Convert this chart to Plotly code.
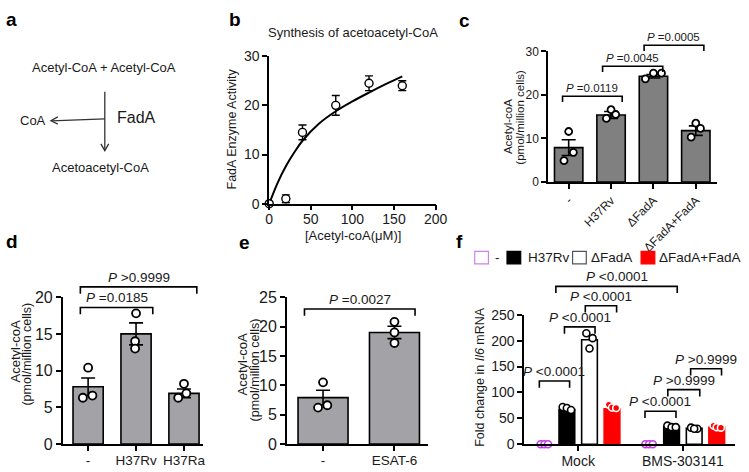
import plotly.graph_objects as go

W, H = 749, 472

# ---------------- data ----------------
b_conc = [0, 20, 40, 80, 120, 160]
b_activity = [0.0, 1.0, 14.5, 20.0, 24.5, 24.0]
b_sem = [0.0, 0.8, 1.5, 2.0, 1.5, 1.0]
b_fit_conc = [0, 10, 20, 30, 40, 60, 80, 100, 120, 140, 160]
b_fit_activity = [0.0, 4.2, 7.6, 10.4, 12.8, 16.3, 18.8, 20.8, 22.6, 24.3, 25.9]
b_xticks = [0, 50, 100, 150, 200]
b_yticks = [0, 10, 20, 30]

c_groups = ["-", "H37Rv", "ΔFadA", "ΔFadA+FadA"]
c_mean = [7.9, 15.4, 24.3, 11.8]
c_sem = [1.8, 0.8, 0.4, 1.1]
c_points = [[11.6, 4.9, 6.8], [16.6, 14.6, 15.5], [23.7, 25.0, 25.0], [13.5, 10.3, 12.3]]
c_pvalues = ["=0.0119", "=0.0045", "=0.0005"]
c_yticks = [0, 10, 20, 30]

d_groups = ["-", "H37Rv", "H37Ra"]
d_mean = [7.8, 15.0, 6.9]
d_sem = [1.2, 1.5, 0.6]
d_points = [[10.4, 6.3, 6.6], [17.8, 14.0, 13.0], [8.2, 6.3, 6.9]]
d_pvalues = ["=0.0185", ">0.9999"]
d_yticks = [0, 5, 10, 15, 20]

e_groups = ["-", "ESAT-6"]
e_mean = [7.9, 19.0]
e_sem = [1.25, 1.05]
e_points = [[10.5, 6.2, 6.6], [20.8, 19.0, 17.2]]
e_pvalues = ["=0.0027"]
e_yticks = [0, 5, 10, 15, 20, 25]

f_treatments = ["Mock", "BMS-303141"]
f_strains = ["-", "H37Rv", "ΔFadA", "ΔFadA+FadA"]
f_mean = [[0, 0], [67, 34], [202, 30.6], [68.5, 32.5]]          # [strain][treatment]
f_points = [
    [[0, 0, 0], [0, 0, 0]],
    [[72, 70, 66], [36, 33, 33]],
    [[214.5, 205, 185], [32, 30, 30]],
    [[76.5, 71, 70], [36, 33, 32]],
]
f_pvalues = ["<0.0001", "<0.0001", "<0.0001", "<0.0001", "<0.0001", ">0.9999", ">0.9999"]
f_yticks = [0, 50, 100, 150, 200, 250]

# ---------------- layout / style ----------------
FONT = "Liberation Sans, Arial, sans-serif"
TXT = "#1a1a1a"

PANELS = {
    'b': dict(n='', px=(271, 441), py=(50, 203), xr=(0, 200), yr=(0, 30)),
    'c': dict(n='2', px=(556, 729), py=(45, 180.5), xr=(-0.485, 3.51), yr=(0, 30)),
    'd': dict(n='3', px=(60, 203), py=(300, 452.3), xr=(-0.53, 2.39), yr=(0, 20)),
    'e': dict(n='4', px=(289, 433), py=(300, 452.3), xr=(-0.507, 1.466), yr=(0, 25)),
    'f': dict(n='5', px=(531.5, 747), py=(318.3, 452.5), xr=(-0.516, 1.498), yr=(0, 250)),
}

def PX(x):
    return x / W

def PY(y):
    return 1 - y / H

def to_paper(p, x, y):
    P = PANELS[p]
    (l, r), (t, b) = P['px'], P['py']
    (x0, x1), (y0, y1) = P['xr'], P['yr']
    xp = l + (x - x0) / (x1 - x0) * (r - l)
    yp = b - (y - y0) / (y1 - y0) * (b - t)
    return xp, yp   # pixel coords

c_jit = [[0, -0.11, 0.11], [0, -0.11, 0.11], [-0.19, 0.0, 0.19], [0, -0.11, 0.11]]
d_jit = [[0, -0.11, 0.09], [0.0, -0.02, -0.02], [0, -0.12, 0.05]]
e_jit = [[0, -0.07, 0.06], [0, 0, 0]]
F_OFF = [-0.323, -0.108, 0.108, 0.323]
F_JIT = [[-0.035, 0, 0.035], [-0.04, 0.0, 0.04], [-0.03, 0.03, 0.0], [-0.03, 0.0, 0.04]]
F_FILL = ["white", "black", "white", "#ff0000"]
F_LINE = ["#c43be6", "black", "black", "#ff0000"]
F_PT_FILL = ["white", "white", "white", "#ff0000"]
F_PT_LINE = ["#c43be6", "black", "black", "white"]

c_brackets = [(-0.145, 1.263, 19.7), (0.80, 2.22, 26.6), (1.78, 3.19, 31.4)]
d_brackets = [(-0.162, 1.349, 18.6), (-0.162, 2.268, 21.4)]
e_brackets = [(-0.26, 1.288, 23.0)]
f_brackets = [(-0.371, -0.082, 122), (-0.131, 0.161, 226.7), (0.068, 0.367, 267.7),
              (-0.213, 0.946, 305), (0.638, 0.934, 63.8), (0.856, 1.161, 105.4),
              (1.074, 1.369, 145.9)]

fig = go.Figure()
shapes = []
annotations = []

def ann(xpx, ypx, text, size, **kw):
    d = dict(x=PX(xpx), y=PY(ypx), xref='paper', yref='paper', text=text,
             showarrow=False, font=dict(family=FONT, size=size, color=kw.pop('color', TXT)),
             xanchor=kw.pop('xanchor', 'center'), yanchor=kw.pop('yanchor', 'middle'))
    d.update(kw)
    annotations.append(d)

def bracket(p, x0, x1, y, pv, size, tip=7, gap=10):
    ax0, ay = to_paper(p, x0, y)
    ax1, _ = to_paper(p, x1, y)
    path = (f"M {PX(ax0)},{PY(ay + tip)} L {PX(ax0)},{PY(ay)} "
            f"L {PX(ax1)},{PY(ay)} L {PX(ax1)},{PY(ay + tip)}")
    shapes.append(dict(type='path', path=path, xref='paper', yref='paper',
                       line=dict(color='black', width=1.6)))
    t = "<i>P</i> " + pv.replace("<", "&lt;").replace(">", "&gt;")
    ann((ax0 + ax1) / 2, ay - gap, t, size)

def axref(p, letter):
    return letter + PANELS[p]['n']

# ---- panel b ----
fig.add_trace(go.Scatter(x=b_fit_conc, y=b_fit_activity, mode='lines',
                         line=dict(color='black', width=2, shape='spline'),
                         xaxis='x', yaxis='y', showlegend=False, hoverinfo='skip'))
fig.add_trace(go.Scatter(x=b_conc, y=b_activity, mode='markers',
                         marker=dict(symbol='circle', size=8, color='white', line=dict(color='black', width=1.4)),
                         error_y=dict(type='data', array=b_sem, color='black', thickness=1.4, width=4),
                         xaxis='x', yaxis='y', showlegend=False, cliponaxis=False))

# ---- bar panels c, d, e ----
def bar_panel(p, groups, mean, sem, points, jit, color, width, msize):
    xa, ya = axref(p, 'x'), axref(p, 'y')
    fig.add_trace(go.Bar(x=list(range(len(groups))), y=mean, width=width, xaxis=xa, yaxis=ya,
                         marker=dict(color=color, line=dict(color='black', width=1.6)),
                         error_y=dict(type='data', array=sem, color='black', thickness=1.6, width=7),
                         showlegend=False))
    xs, ys = [], []
    for i, pts in enumerate(points):
        for j, v in enumerate(pts):
            xs.append(i + jit[i][j])
            ys.append(v)
    fig.add_trace(go.Scatter(x=xs, y=ys, mode='markers', xaxis=xa, yaxis=ya, cliponaxis=False,
                             marker=dict(symbol='circle', size=msize, color='white',
                                         line=dict(color='black', width=1.8)),
                             showlegend=False))

bar_panel('c', c_groups, c_mean, c_sem, c_points, c_jit, '#808080', 0.67, 7)
bar_panel('d', d_groups, d_mean, d_sem, d_points, d_jit, '#a3a3a7', 0.63, 8)
bar_panel('e', e_groups, e_mean, e_sem, e_points, e_jit, '#a3a3a7', 0.70, 8)

# ---- panel f ----
for k, s in enumerate(f_strains):
    fig.add_trace(go.Bar(x=[g + F_OFF[k] for g in range(len(f_treatments))], y=f_mean[k], width=0.15,
                         xaxis='x5', yaxis='y5', showlegend=False,
                         marker=dict(color=F_FILL[k], line=dict(color=F_LINE[k], width=1.6))))
for k, s in enumerate(f_strains):
    xs, ys = [], []
    for g in range(len(f_treatments)):
        for j, v in enumerate(f_points[k][g]):
            xs.append(g + F_OFF[k] + F_JIT[k][j])
            ys.append(v)
    fig.add_trace(go.Scatter(x=xs, y=ys, mode='markers', xaxis='x5', yaxis='y5', cliponaxis=False,
                             marker=dict(symbol='circle', size=7, color=F_PT_FILL[k],
                                         line=dict(color=F_PT_LINE[k], width=1.6)),
                             showlegend=False))

# ---- axes ----
def axis_common(size):
    return dict(showline=True, linecolor='black', linewidth=1.6, ticks='outside', ticklen=5,
                tickwidth=1.6, tickcolor='black', showgrid=False, zeroline=False, fixedrange=True,
                tickfont=dict(family=FONT, size=size, color=TXT))

layout_axes = {}
def set_axes(p, xticks, xtext, yticks, xsize, ysize, tickangle=0, xstand=0):
    P = PANELS[p]
    n = P['n']
    xa = axis_common(xsize)
    xa.update(domain=[PX(P['px'][0]), PX(P['px'][1])], range=list(P['xr']), anchor='y' + n,
              tickmode='array', tickvals=xticks, ticktext=xtext, tickangle=tickangle,
              ticklabelstandoff=xstand)
    ya = axis_common(ysize)
    ya.update(domain=[PY(P['py'][1]), PY(P['py'][0])], range=list(P['yr']), anchor='x' + n,
              tickmode='array', tickvals=yticks)
    layout_axes['xaxis' + n] = xa
    layout_axes['yaxis' + n] = ya

set_axes('b', b_xticks, [str(v) for v in b_xticks], b_yticks, 14, 14, xstand=-3)
set_axes('c', list(range(len(c_groups))), c_groups, c_yticks, 12, 12, tickangle=-45)
set_axes('d', list(range(len(d_groups))), d_groups, d_yticks, 13.5, 16, xstand=-2)
set_axes('e', list(range(len(e_groups))), e_groups, e_yticks, 13.5, 16, xstand=-2)
set_axes('f', list(range(len(f_treatments))), f_treatments, f_yticks, 14, 14, xstand=-2)

# ---- brackets ----
for (x0, x1, y), pv in zip(c_brackets, c_pvalues):
    bracket('c', x0, x1, y, pv, 11.5, tip=6, gap=9)
for (x0, x1, y), pv in zip(d_brackets, d_pvalues):
    bracket('d', x0, x1, y, pv, 13.5)
for (x0, x1, y), pv in zip(e_brackets, e_pvalues):
    bracket('e', x0, x1, y, pv, 13.5)
for (x0, x1, y), pv in zip(f_brackets, f_pvalues):
    bracket('f', x0, x1, y, pv, 13.5)

# ---- axis titles ----
ann(233, 126, "FadA Enzyme Activity", 12.5, textangle=-90)
ann(357, 236, "[Acetyl-coA(μM)]", 13)
ann(357, 25, "Synthesis of acetoacetyl-CoA", 13)
ann(514.5, 123, "Acetyl-coA", 11.5, textangle=-90)
ann(527, 113, "(pmol/million cells)", 11.5, textangle=-90)
ann(11.5, 356, "Acetyl-coA", 13, textangle=-90)
ann(24, 359, "(pmol/million cells)", 12.5, textangle=-90)
ann(244, 370, "Acetyl-coA", 13, textangle=-90)
ann(256.5, 376, "(pmol/million cells)", 12.5, textangle=-90)
ann(487, 383, "Fold change in <i>Il6</i> mRNA", 12.5, textangle=-90)

# ---- legend f ----
LEG_Y = 259
leg_items = [(481, 495), (514, 528), (581, 595), (651, 665)]
leg_text_x = [500, 533, 598, 667]
leg_edge = ['#d080f0', 'black', '#555555', '#ff0000']
for k, s in enumerate(f_strains):
    x0, x1 = leg_items[k]
    shapes.append(dict(type='rect', xref='paper', yref='paper', x0=PX(x0), x1=PX(x1),
                       y0=PY(LEG_Y + 6.5), y1=PY(LEG_Y - 6.5),
                       fillcolor=F_FILL[k], line=dict(color=leg_edge[k], width=1.2)))
    ann(leg_text_x[k], LEG_Y, s, 13.5, xanchor='left')

# ---- panel a diagram ----
ann(102.5, 62, "Acetyl-CoA + Acetyl-CoA", 13)
ann(30, 117, "CoA", 13)
ann(135.5, 114, "FadA", 16)
ann(99, 165, "Acetoacetyl-CoA", 13)
ARROW = dict(color='#333333', width=1.3)
shapes.append(dict(type='line', xref='paper', yref='paper', x0=PX(103), y0=PY(87), x1=PX(103), y1=PY(147.5), line=ARROW))
shapes.append(dict(type='path', xref='paper', yref='paper',
                   path=f"M {PX(99)},{PY(141)} L {PX(103)},{PY(148)} L {PX(107)},{PY(141)}", line=ARROW))
shapes.append(dict(type='line', xref='paper', yref='paper', x0=PX(103), y0=PY(115), x1=PX(48.5), y1=PY(117), line=ARROW))
shapes.append(dict(type='path', xref='paper', yref='paper',
                   path=f"M {PX(55)},{PY(113)} L {PX(48)},{PY(117)} L {PX(55)},{PY(120.5)}", line=ARROW))

# ---- panel letters ----
for lab, (x, y) in {'a': (8, 12), 'b': (236, 12), 'c': (471, 13), 'd': (8, 242),
                    'e': (246, 243), 'f': (465, 242)}.items():
    ann(x, y, f"<b>{lab}</b>", 19, color='black')

fig.update_layout(width=W, height=H, autosize=False, margin=dict(l=0, r=0, t=0, b=0),
                  paper_bgcolor='white', plot_bgcolor='rgba(0,0,0,0)', barmode='overlay',
                  font=dict(family=FONT, color=TXT), shapes=shapes, annotations=annotations,
                  **layout_axes)

fig.write_html("out.html", config={'displayModeBar': False},
               post_script="document.body.style.margin='0';")
